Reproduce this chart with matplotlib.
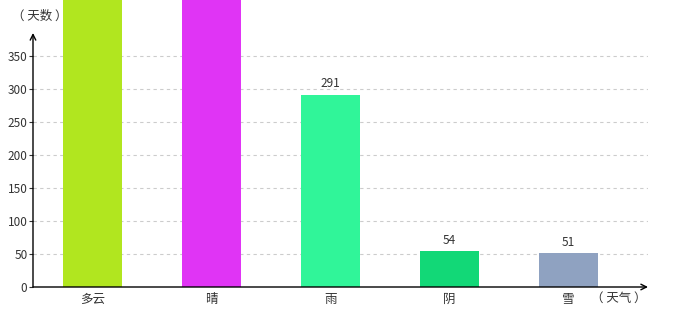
import matplotlib
matplotlib.use("Agg")
import matplotlib.pyplot as plt

plt.rcParams["font.family"] = ["Noto Sans CJK SC", "DejaVu Sans"]

# weather categories and day counts (first two run off the top of the chart)
weather = ["多云", "晴", "雨", "阴", "雪"]
days = [620, 560, 291, 54, 51]
colors = ["#b1e61f", "#e034f5", "#30f599", "#12d877", "#8fa2c1"]
yticks = [0, 50, 100, 150, 200, 250, 300, 350]

fig = plt.figure(figsize=(6.8, 3.2), dpi=100)
ax = fig.add_axes([33 / 680, 33 / 320, 615 / 680, 287 / 320])

x = range(len(weather))
ax.bar(x, days, width=0.5, color=colors, zorder=2)

ax.set_xlim(-0.5, 4.67)
ax.set_ylim(0, 435)

# value labels above visible bars
for i, v in enumerate(days):
    if v < 400:
        ax.text(i, v + 7, str(v), ha="center", va="bottom", fontsize=8.5, color="#333333")

ax.set_xticks(list(x))
ax.set_xticklabels(weather, fontsize=9, color="#333333")
ax.set_yticks(yticks)
ax.set_yticklabels([str(t) for t in yticks], fontsize=8.5, color="#333333")
ax.tick_params(axis="x", length=0, pad=4)
ax.tick_params(axis="y", length=3, pad=1, color="#333333")

for t in yticks[1:]:
    ax.axhline(t, color="#cccccc", linestyle=(0, (3, 3)), linewidth=0.8, zorder=1)

for s in ax.spines.values():
    s.set_visible(False)

# axis lines with arrow heads
ax.annotate("", xy=(0, 385), xytext=(0, 0), xycoords=("axes fraction", "data"),
            arrowprops=dict(arrowstyle="->", color="black", lw=1, shrinkA=0, shrinkB=0),
            annotation_clip=False)
ax.annotate("", xy=(1, 0), xytext=(0, 0), xycoords="axes fraction",
            arrowprops=dict(arrowstyle="->", color="black", lw=1, shrinkA=0, shrinkB=0),
            annotation_clip=False)

fig.text(40 / 680, 1 - 16 / 320, "（ 天数 ）", ha="center", va="center", fontsize=9, color="#333333")
fig.text(619 / 680, 1 - 298 / 320, "（ 天气 ）", ha="center", va="center", fontsize=9, color="#333333")

fig.savefig("out.png", dpi=100)
